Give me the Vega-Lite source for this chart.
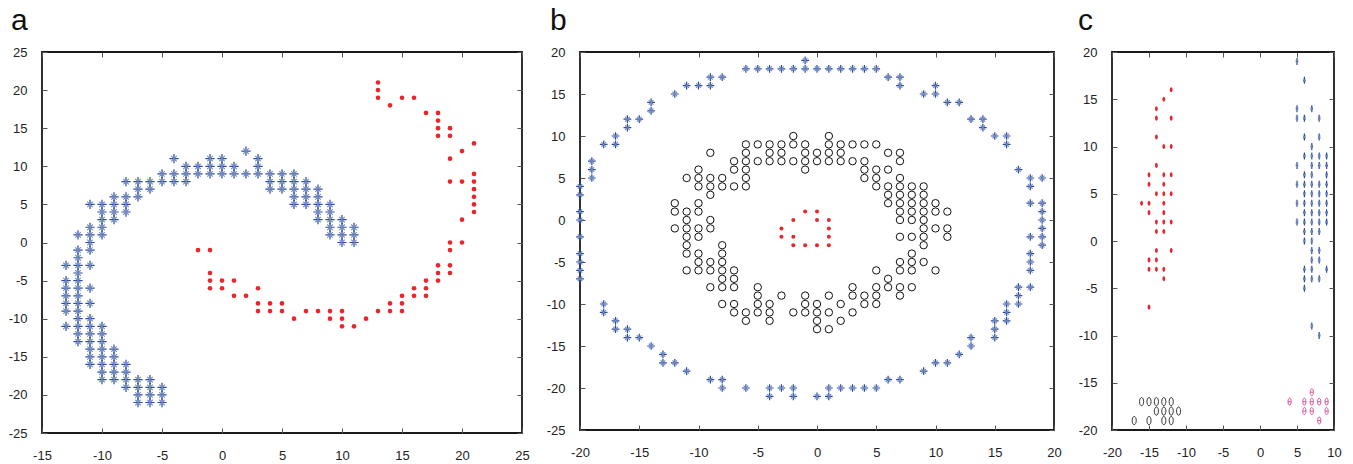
{
"$schema": "https://vega.github.io/schema/vega-lite/v6.json",
"background": "white",
"padding": {"left": 7, "top": 4, "right": 5, "bottom": 5},
"bounds": "flush",
"spacing": 58,
"datasets": {
"a": [
{"x":-13,"y":-3,"g":"s"},{"x":-13,"y":-5,"g":"s"},{"x":-13,"y":-6,"g":"s"},{"x":-13,"y":-7,"g":"s"},{"x":-13,"y":-8,"g":"s"},{"x":-13,"y":-9,"g":"s"},{"x":-13,"y":-11,"g":"s"},
{"x":-12,"y":1,"g":"s"},{"x":-12,"y":-1,"g":"s"},{"x":-12,"y":-2,"g":"s"},{"x":-12,"y":-3,"g":"s"},{"x":-12,"y":-4,"g":"s"},{"x":-12,"y":-5,"g":"s"},{"x":-12,"y":-6,"g":"s"},{"x":-12,"y":-7,"g":"s"},{"x":-12,"y":-8,"g":"s"},{"x":-12,"y":-9,"g":"s"},{"x":-12,"y":-10,"g":"s"},{"x":-12,"y":-11,"g":"s"},{"x":-12,"y":-12,"g":"s"},{"x":-12,"y":-13,"g":"s"},
{"x":-11,"y":5,"g":"s"},{"x":-11,"y":2,"g":"s"},{"x":-11,"y":1,"g":"s"},{"x":-11,"y":0,"g":"s"},{"x":-11,"y":-1,"g":"s"},{"x":-11,"y":-3,"g":"s"},{"x":-11,"y":-6,"g":"s"},{"x":-11,"y":-8,"g":"s"},{"x":-11,"y":-10,"g":"s"},{"x":-11,"y":-11,"g":"s"},{"x":-11,"y":-12,"g":"s"},{"x":-11,"y":-13,"g":"s"},{"x":-11,"y":-14,"g":"s"},{"x":-11,"y":-15,"g":"s"},{"x":-11,"y":-16,"g":"s"},
{"x":-10,"y":5,"g":"s"},{"x":-10,"y":4,"g":"s"},{"x":-10,"y":3,"g":"s"},{"x":-10,"y":2,"g":"s"},{"x":-10,"y":1,"g":"s"},{"x":-10,"y":-11,"g":"s"},{"x":-10,"y":-12,"g":"s"},{"x":-10,"y":-13,"g":"s"},{"x":-10,"y":-14,"g":"s"},{"x":-10,"y":-15,"g":"s"},{"x":-10,"y":-16,"g":"s"},{"x":-10,"y":-17,"g":"s"},{"x":-10,"y":-18,"g":"s"},
{"x":-9,"y":6,"g":"s"},{"x":-9,"y":5,"g":"s"},{"x":-9,"y":4,"g":"s"},{"x":-9,"y":3,"g":"s"},{"x":-9,"y":-14,"g":"s"},{"x":-9,"y":-15,"g":"s"},{"x":-9,"y":-16,"g":"s"},{"x":-9,"y":-17,"g":"s"},{"x":-9,"y":-18,"g":"s"},
{"x":-8,"y":8,"g":"s"},{"x":-8,"y":6,"g":"s"},{"x":-8,"y":5,"g":"s"},{"x":-8,"y":4,"g":"s"},{"x":-8,"y":-16,"g":"s"},{"x":-8,"y":-17,"g":"s"},{"x":-8,"y":-18,"g":"s"},{"x":-8,"y":-19,"g":"s"},
{"x":-7,"y":8,"g":"s"},{"x":-7,"y":7,"g":"s"},{"x":-7,"y":6,"g":"s"},{"x":-7,"y":-18,"g":"s"},{"x":-7,"y":-19,"g":"s"},{"x":-7,"y":-20,"g":"s"},{"x":-7,"y":-21,"g":"s"},
{"x":-6,"y":8,"g":"s"},{"x":-6,"y":7,"g":"s"},{"x":-6,"y":-18,"g":"s"},{"x":-6,"y":-19,"g":"s"},{"x":-6,"y":-20,"g":"s"},{"x":-6,"y":-21,"g":"s"},
{"x":-5,"y":9,"g":"s"},{"x":-5,"y":8,"g":"s"},{"x":-5,"y":-19,"g":"s"},{"x":-5,"y":-20,"g":"s"},{"x":-5,"y":-21,"g":"s"},
{"x":-4,"y":11,"g":"s"},{"x":-4,"y":9,"g":"s"},{"x":-4,"y":8,"g":"s"},
{"x":-3,"y":10,"g":"s"},{"x":-3,"y":9,"g":"s"},{"x":-3,"y":8,"g":"s"},
{"x":-2,"y":10,"g":"s"},{"x":-2,"y":9,"g":"s"},
{"x":-1,"y":11,"g":"s"},{"x":-1,"y":10,"g":"s"},{"x":-1,"y":9,"g":"s"},
{"x":0,"y":11,"g":"s"},{"x":0,"y":10,"g":"s"},{"x":0,"y":9,"g":"s"},
{"x":1,"y":10,"g":"s"},{"x":1,"y":9,"g":"s"},
{"x":2,"y":12,"g":"s"},{"x":2,"y":9,"g":"s"},
{"x":3,"y":11,"g":"s"},{"x":3,"y":10,"g":"s"},{"x":3,"y":9,"g":"s"},
{"x":4,"y":9,"g":"s"},{"x":4,"y":8,"g":"s"},{"x":4,"y":7,"g":"s"},
{"x":5,"y":9,"g":"s"},{"x":5,"y":8,"g":"s"},{"x":5,"y":7,"g":"s"},
{"x":6,"y":9,"g":"s"},{"x":6,"y":8,"g":"s"},{"x":6,"y":7,"g":"s"},{"x":6,"y":6,"g":"s"},{"x":6,"y":5,"g":"s"},
{"x":7,"y":8,"g":"s"},{"x":7,"y":7,"g":"s"},{"x":7,"y":6,"g":"s"},{"x":7,"y":5,"g":"s"},
{"x":8,"y":7,"g":"s"},{"x":8,"y":6,"g":"s"},{"x":8,"y":5,"g":"s"},{"x":8,"y":4,"g":"s"},{"x":8,"y":3,"g":"s"},
{"x":9,"y":5,"g":"s"},{"x":9,"y":4,"g":"s"},{"x":9,"y":3,"g":"s"},{"x":9,"y":2,"g":"s"},{"x":9,"y":1,"g":"s"},
{"x":10,"y":3,"g":"s"},{"x":10,"y":2,"g":"s"},{"x":10,"y":1,"g":"s"},{"x":10,"y":0,"g":"s"},
{"x":11,"y":2,"g":"s"},{"x":11,"y":1,"g":"s"},{"x":11,"y":0,"g":"s"},
{"x":-2,"y":-1,"g":"r"},{"x":-1,"y":-1,"g":"r"},{"x":-1,"y":-4,"g":"r"},{"x":-1,"y":-5,"g":"r"},{"x":-1,"y":-6,"g":"r"},{"x":0,"y":-5,"g":"r"},{"x":0,"y":-6,"g":"r"},{"x":1,"y":-5,"g":"r"},{"x":1,"y":-7,"g":"r"},{"x":2,"y":-7,"g":"r"},
{"x":3,"y":-6,"g":"r"},{"x":3,"y":-8,"g":"r"},{"x":3,"y":-9,"g":"r"},{"x":4,"y":-8,"g":"r"},{"x":4,"y":-9,"g":"r"},{"x":5,"y":-8,"g":"r"},{"x":5,"y":-9,"g":"r"},{"x":6,"y":-10,"g":"r"},{"x":7,"y":-9,"g":"r"},{"x":8,"y":-9,"g":"r"},
{"x":9,"y":-9,"g":"r"},{"x":9,"y":-10,"g":"r"},{"x":10,"y":-9,"g":"r"},{"x":10,"y":-10,"g":"r"},{"x":10,"y":-11,"g":"r"},{"x":11,"y":-11,"g":"r"},{"x":12,"y":-10,"g":"r"},{"x":13,"y":-9,"g":"r"},{"x":14,"y":-8,"g":"r"},{"x":14,"y":-9,"g":"r"},
{"x":15,"y":-7,"g":"r"},{"x":15,"y":-8,"g":"r"},{"x":15,"y":-9,"g":"r"},{"x":16,"y":-6,"g":"r"},{"x":16,"y":-7,"g":"r"},{"x":17,"y":-5,"g":"r"},{"x":17,"y":-6,"g":"r"},{"x":17,"y":-7,"g":"r"},{"x":18,"y":-3,"g":"r"},{"x":18,"y":-4,"g":"r"},{"x":18,"y":-5,"g":"r"},
{"x":19,"y":0,"g":"r"},{"x":19,"y":-1,"g":"r"},{"x":19,"y":-3,"g":"r"},{"x":19,"y":-4,"g":"r"},{"x":20,"y":0,"g":"r"},{"x":20,"y":3,"g":"r"},{"x":20,"y":8,"g":"r"},{"x":20,"y":12,"g":"r"},{"x":19,"y":8,"g":"r"},{"x":19,"y":11,"g":"r"},{"x":19,"y":14,"g":"r"},{"x":19,"y":15,"g":"r"},
{"x":21,"y":13,"g":"r"},{"x":21,"y":9,"g":"r"},{"x":21,"y":8,"g":"r"},{"x":21,"y":7,"g":"r"},{"x":21,"y":6,"g":"r"},{"x":21,"y":5,"g":"r"},{"x":21,"y":4,"g":"r"},
{"x":18,"y":17,"g":"r"},{"x":18,"y":16,"g":"r"},{"x":18,"y":15,"g":"r"},{"x":18,"y":14,"g":"r"},{"x":17,"y":17,"g":"r"},{"x":16,"y":19,"g":"r"},{"x":15,"y":19,"g":"r"},{"x":14,"y":18,"g":"r"},{"x":13,"y":21,"g":"r"},{"x":13,"y":20,"g":"r"},{"x":13,"y":19,"g":"r"}
],
"b": [
{"x":-1,"y":19,"g":"s"},
{"x":-6,"y":18,"g":"s"},{"x":-5,"y":18,"g":"s"},{"x":-4,"y":18,"g":"s"},{"x":-3,"y":18,"g":"s"},{"x":-2,"y":18,"g":"s"},{"x":-1,"y":18,"g":"s"},{"x":0,"y":18,"g":"s"},{"x":1,"y":18,"g":"s"},{"x":2,"y":18,"g":"s"},{"x":3,"y":18,"g":"s"},{"x":4,"y":18,"g":"s"},{"x":5,"y":18,"g":"s"},
{"x":-9,"y":17,"g":"s"},{"x":-8,"y":17,"g":"s"},{"x":6,"y":17,"g":"s"},{"x":7,"y":17,"g":"s"},
{"x":-11,"y":16,"g":"s"},{"x":-10,"y":16,"g":"s"},{"x":-9,"y":16,"g":"s"},{"x":7,"y":16,"g":"s"},{"x":10,"y":16,"g":"s"},
{"x":-12,"y":15,"g":"s"},{"x":9,"y":15,"g":"s"},{"x":10,"y":15,"g":"s"},
{"x":-14,"y":14,"g":"s"},{"x":11,"y":14,"g":"s"},{"x":12,"y":14,"g":"s"},
{"x":-14,"y":13,"g":"s"},
{"x":-16,"y":12,"g":"s"},{"x":-15,"y":12,"g":"s"},{"x":13,"y":12,"g":"s"},{"x":14,"y":12,"g":"s"},
{"x":-16,"y":11,"g":"s"},{"x":14,"y":11,"g":"s"},
{"x":-17,"y":10,"g":"s"},{"x":15,"y":10,"g":"s"},{"x":16,"y":10,"g":"s"},
{"x":-18,"y":9,"g":"s"},{"x":-17,"y":9,"g":"s"},{"x":16,"y":9,"g":"s"},
{"x":-19,"y":7,"g":"s"},
{"x":-19,"y":6,"g":"s"},{"x":17,"y":6,"g":"s"},
{"x":-19,"y":5,"g":"s"},{"x":18,"y":5,"g":"s"},{"x":19,"y":5,"g":"s"},
{"x":-20,"y":4,"g":"s"},{"x":18,"y":4,"g":"s"},
{"x":-20,"y":3,"g":"s"},
{"x":18,"y":2,"g":"s"},{"x":19,"y":2,"g":"s"},
{"x":-20,"y":1,"g":"s"},{"x":19,"y":1,"g":"s"},
{"x":-20,"y":0,"g":"s"},{"x":19,"y":0,"g":"s"},
{"x":19,"y":-1,"g":"s"},
{"x":-20,"y":-2,"g":"s"},{"x":18,"y":-2,"g":"s"},{"x":19,"y":-2,"g":"s"},
{"x":19,"y":-3,"g":"s"},
{"x":-20,"y":-4,"g":"s"},{"x":18,"y":-4,"g":"s"},
{"x":-20,"y":-5,"g":"s"},{"x":18,"y":-5,"g":"s"},
{"x":-20,"y":-6,"g":"s"},{"x":18,"y":-6,"g":"s"},
{"x":-20,"y":-7,"g":"s"},
{"x":17,"y":-8,"g":"s"},{"x":18,"y":-8,"g":"s"},
{"x":17,"y":-9,"g":"s"},
{"x":-18,"y":-10,"g":"s"},{"x":16,"y":-10,"g":"s"},{"x":17,"y":-10,"g":"s"},
{"x":-18,"y":-11,"g":"s"},{"x":16,"y":-11,"g":"s"},
{"x":-17,"y":-12,"g":"s"},{"x":15,"y":-12,"g":"s"},{"x":16,"y":-12,"g":"s"},
{"x":-17,"y":-13,"g":"s"},{"x":-16,"y":-13,"g":"s"},{"x":15,"y":-13,"g":"s"},
{"x":-16,"y":-14,"g":"s"},{"x":-15,"y":-14,"g":"s"},{"x":13,"y":-14,"g":"s"},{"x":15,"y":-14,"g":"s"},
{"x":-14,"y":-15,"g":"s"},{"x":13,"y":-15,"g":"s"},
{"x":-13,"y":-16,"g":"s"},{"x":12,"y":-16,"g":"s"},
{"x":-13,"y":-17,"g":"s"},{"x":-12,"y":-17,"g":"s"},{"x":10,"y":-17,"g":"s"},{"x":11,"y":-17,"g":"s"},
{"x":-11,"y":-18,"g":"s"},{"x":9,"y":-18,"g":"s"},
{"x":-9,"y":-19,"g":"s"},{"x":-8,"y":-19,"g":"s"},{"x":6,"y":-19,"g":"s"},{"x":7,"y":-19,"g":"s"},
{"x":-8,"y":-20,"g":"s"},{"x":-6,"y":-20,"g":"s"},{"x":-4,"y":-20,"g":"s"},{"x":-3,"y":-20,"g":"s"},{"x":-2,"y":-20,"g":"s"},{"x":1,"y":-20,"g":"s"},{"x":2,"y":-20,"g":"s"},{"x":3,"y":-20,"g":"s"},{"x":4,"y":-20,"g":"s"},{"x":5,"y":-20,"g":"s"},
{"x":-4,"y":-21,"g":"s"},{"x":-2,"y":-21,"g":"s"},{"x":0,"y":-21,"g":"s"},{"x":1,"y":-21,"g":"s"},
{"x":-2,"y":10,"g":"o"},{"x":1,"y":10,"g":"o"},
{"x":-6,"y":9,"g":"o"},{"x":-5,"y":9,"g":"o"},{"x":-4,"y":9,"g":"o"},{"x":-3,"y":9,"g":"o"},{"x":-2,"y":9,"g":"o"},{"x":-1,"y":9,"g":"o"},{"x":1,"y":9,"g":"o"},{"x":2,"y":9,"g":"o"},{"x":3,"y":9,"g":"o"},{"x":4,"y":9,"g":"o"},{"x":5,"y":9,"g":"o"},
{"x":-9,"y":8,"g":"o"},{"x":-6,"y":8,"g":"o"},{"x":-4,"y":8,"g":"o"},{"x":-3,"y":8,"g":"o"},{"x":-1,"y":8,"g":"o"},{"x":0,"y":8,"g":"o"},{"x":1,"y":8,"g":"o"},{"x":2,"y":8,"g":"o"},{"x":6,"y":8,"g":"o"},{"x":7,"y":8,"g":"o"},
{"x":-7,"y":7,"g":"o"},{"x":-6,"y":7,"g":"o"},{"x":-5,"y":7,"g":"o"},{"x":-4,"y":7,"g":"o"},{"x":-3,"y":7,"g":"o"},{"x":-2,"y":7,"g":"o"},{"x":-1,"y":7,"g":"o"},{"x":0,"y":7,"g":"o"},{"x":1,"y":7,"g":"o"},{"x":2,"y":7,"g":"o"},{"x":3,"y":7,"g":"o"},{"x":4,"y":7,"g":"o"},{"x":7,"y":7,"g":"o"},
{"x":-10,"y":6,"g":"o"},{"x":-7,"y":6,"g":"o"},{"x":-6,"y":6,"g":"o"},{"x":-1,"y":6,"g":"o"},{"x":4,"y":6,"g":"o"},{"x":5,"y":6,"g":"o"},{"x":6,"y":6,"g":"o"},
{"x":-11,"y":5,"g":"o"},{"x":-10,"y":5,"g":"o"},{"x":-9,"y":5,"g":"o"},{"x":-8,"y":5,"g":"o"},{"x":-6,"y":5,"g":"o"},{"x":4,"y":5,"g":"o"},{"x":5,"y":5,"g":"o"},{"x":7,"y":5,"g":"o"},
{"x":-10,"y":4,"g":"o"},{"x":-9,"y":4,"g":"o"},{"x":-8,"y":4,"g":"o"},{"x":-7,"y":4,"g":"o"},{"x":-6,"y":4,"g":"o"},{"x":5,"y":4,"g":"o"},{"x":6,"y":4,"g":"o"},{"x":7,"y":4,"g":"o"},{"x":8,"y":4,"g":"o"},{"x":9,"y":4,"g":"o"},
{"x":-9,"y":3,"g":"o"},{"x":6,"y":3,"g":"o"},{"x":7,"y":3,"g":"o"},{"x":8,"y":3,"g":"o"},{"x":9,"y":3,"g":"o"},
{"x":-12,"y":2,"g":"o"},{"x":-10,"y":2,"g":"o"},{"x":6,"y":2,"g":"o"},{"x":7,"y":2,"g":"o"},{"x":8,"y":2,"g":"o"},{"x":9,"y":2,"g":"o"},{"x":10,"y":2,"g":"o"},
{"x":-12,"y":1,"g":"o"},{"x":-11,"y":1,"g":"o"},{"x":-10,"y":1,"g":"o"},{"x":7,"y":1,"g":"o"},{"x":8,"y":1,"g":"o"},{"x":9,"y":1,"g":"o"},{"x":10,"y":1,"g":"o"},{"x":11,"y":1,"g":"o"},
{"x":-11,"y":0,"g":"o"},{"x":-9,"y":0,"g":"o"},{"x":7,"y":0,"g":"o"},{"x":8,"y":0,"g":"o"},{"x":9,"y":0,"g":"o"},
{"x":-12,"y":-1,"g":"o"},{"x":-11,"y":-1,"g":"o"},{"x":-10,"y":-1,"g":"o"},{"x":-9,"y":-1,"g":"o"},{"x":9,"y":-1,"g":"o"},{"x":10,"y":-1,"g":"o"},{"x":11,"y":-1,"g":"o"},
{"x":-11,"y":-2,"g":"o"},{"x":-10,"y":-2,"g":"o"},{"x":7,"y":-2,"g":"o"},{"x":8,"y":-2,"g":"o"},{"x":9,"y":-2,"g":"o"},{"x":11,"y":-2,"g":"o"},
{"x":-11,"y":-3,"g":"o"},{"x":-8,"y":-3,"g":"o"},{"x":9,"y":-3,"g":"o"},
{"x":-11,"y":-4,"g":"o"},{"x":-10,"y":-4,"g":"o"},{"x":-8,"y":-4,"g":"o"},{"x":8,"y":-4,"g":"o"},
{"x":-10,"y":-5,"g":"o"},{"x":-9,"y":-5,"g":"o"},{"x":-8,"y":-5,"g":"o"},{"x":7,"y":-5,"g":"o"},{"x":8,"y":-5,"g":"o"},{"x":9,"y":-5,"g":"o"},
{"x":-11,"y":-6,"g":"o"},{"x":-10,"y":-6,"g":"o"},{"x":-9,"y":-6,"g":"o"},{"x":-8,"y":-6,"g":"o"},{"x":-7,"y":-6,"g":"o"},{"x":5,"y":-6,"g":"o"},{"x":7,"y":-6,"g":"o"},{"x":8,"y":-6,"g":"o"},{"x":10,"y":-6,"g":"o"},
{"x":-8,"y":-7,"g":"o"},{"x":-7,"y":-7,"g":"o"},{"x":6,"y":-7,"g":"o"},
{"x":-9,"y":-8,"g":"o"},{"x":-8,"y":-8,"g":"o"},{"x":-7,"y":-8,"g":"o"},{"x":-5,"y":-8,"g":"o"},{"x":3,"y":-8,"g":"o"},{"x":5,"y":-8,"g":"o"},{"x":6,"y":-8,"g":"o"},{"x":7,"y":-8,"g":"o"},{"x":8,"y":-8,"g":"o"},
{"x":-5,"y":-9,"g":"o"},{"x":-3,"y":-9,"g":"o"},{"x":-1,"y":-9,"g":"o"},{"x":1,"y":-9,"g":"o"},{"x":3,"y":-9,"g":"o"},{"x":4,"y":-9,"g":"o"},{"x":5,"y":-9,"g":"o"},{"x":7,"y":-9,"g":"o"},
{"x":-8,"y":-10,"g":"o"},{"x":-7,"y":-10,"g":"o"},{"x":-5,"y":-10,"g":"o"},{"x":-4,"y":-10,"g":"o"},{"x":-1,"y":-10,"g":"o"},{"x":0,"y":-10,"g":"o"},{"x":2,"y":-10,"g":"o"},{"x":4,"y":-10,"g":"o"},{"x":5,"y":-10,"g":"o"},
{"x":-7,"y":-11,"g":"o"},{"x":-6,"y":-11,"g":"o"},{"x":-5,"y":-11,"g":"o"},{"x":-4,"y":-11,"g":"o"},{"x":-2,"y":-11,"g":"o"},{"x":-1,"y":-11,"g":"o"},{"x":0,"y":-11,"g":"o"},{"x":1,"y":-11,"g":"o"},{"x":3,"y":-11,"g":"o"},
{"x":-6,"y":-12,"g":"o"},{"x":-4,"y":-12,"g":"o"},{"x":0,"y":-12,"g":"o"},{"x":2,"y":-12,"g":"o"},
{"x":0,"y":-13,"g":"o"},{"x":1,"y":-13,"g":"o"},
{"x":-1,"y":1,"g":"r"},{"x":0,"y":1,"g":"r"},{"x":-2,"y":0,"g":"r"},{"x":0,"y":0,"g":"r"},{"x":1,"y":0,"g":"r"},{"x":-3,"y":-1,"g":"r"},{"x":1,"y":-1,"g":"r"},{"x":-3,"y":-2,"g":"r"},{"x":-2,"y":-2,"g":"r"},{"x":1,"y":-2,"g":"r"},{"x":-2,"y":-3,"g":"r"},{"x":-1,"y":-3,"g":"r"},{"x":0,"y":-3,"g":"r"},{"x":1,"y":-3,"g":"r"}
],
"c": [
{"x":-12,"y":16,"g":"r"},{"x":-13,"y":15,"g":"r"},{"x":-14,"y":14,"g":"r"},{"x":-14,"y":13,"g":"r"},{"x":-12,"y":13,"g":"r"},{"x":-14,"y":11,"g":"r"},{"x":-13,"y":10,"g":"r"},{"x":-12,"y":10,"g":"r"},{"x":-14,"y":8,"g":"r"},{"x":-15,"y":7,"g":"r"},{"x":-13,"y":7,"g":"r"},{"x":-12,"y":7,"g":"r"},
{"x":-15,"y":6,"g":"r"},{"x":-13,"y":6,"g":"r"},{"x":-14,"y":5,"g":"r"},{"x":-13,"y":5,"g":"r"},{"x":-12,"y":5,"g":"r"},{"x":-16,"y":4,"g":"r"},{"x":-15,"y":4,"g":"r"},{"x":-13,"y":4,"g":"r"},{"x":-15,"y":3,"g":"r"},{"x":-13,"y":3,"g":"r"},
{"x":-14,"y":2,"g":"r"},{"x":-13,"y":2,"g":"r"},{"x":-12,"y":2,"g":"r"},{"x":-14,"y":1,"g":"r"},{"x":-13,"y":1,"g":"r"},{"x":-14,"y":-1,"g":"r"},{"x":-12,"y":-1,"g":"r"},{"x":-15,"y":-2,"g":"r"},{"x":-14,"y":-2,"g":"r"},{"x":-15,"y":-3,"g":"r"},{"x":-14,"y":-3,"g":"r"},{"x":-13,"y":-3,"g":"r"},{"x":-13,"y":-4,"g":"r"},{"x":-15,"y":-7,"g":"r"},
{"x":5,"y":19,"g":"s"},{"x":6,"y":17,"g":"s"},{"x":5,"y":14,"g":"s"},{"x":7,"y":14,"g":"s"},{"x":5,"y":13,"g":"s"},{"x":6,"y":13,"g":"s"},{"x":8,"y":13,"g":"s"},{"x":6,"y":11,"g":"s"},{"x":8,"y":11,"g":"s"},{"x":7,"y":10,"g":"s"},
{"x":6,"y":9,"g":"s"},{"x":7,"y":9,"g":"s"},{"x":8,"y":9,"g":"s"},{"x":9,"y":9,"g":"s"},{"x":5,"y":8,"g":"s"},{"x":7,"y":8,"g":"s"},{"x":8,"y":8,"g":"s"},{"x":9,"y":8,"g":"s"},{"x":6,"y":7,"g":"s"},{"x":7,"y":7,"g":"s"},{"x":9,"y":7,"g":"s"},
{"x":5,"y":6,"g":"s"},{"x":6,"y":6,"g":"s"},{"x":7,"y":6,"g":"s"},{"x":8,"y":6,"g":"s"},{"x":9,"y":6,"g":"s"},{"x":6,"y":5,"g":"s"},{"x":7,"y":5,"g":"s"},{"x":8,"y":5,"g":"s"},{"x":9,"y":5,"g":"s"},
{"x":5,"y":4,"g":"s"},{"x":6,"y":4,"g":"s"},{"x":7,"y":4,"g":"s"},{"x":8,"y":4,"g":"s"},{"x":9,"y":4,"g":"s"},{"x":6,"y":3,"g":"s"},{"x":7,"y":3,"g":"s"},{"x":8,"y":3,"g":"s"},{"x":9,"y":3,"g":"s"},
{"x":5,"y":2,"g":"s"},{"x":6,"y":2,"g":"s"},{"x":7,"y":2,"g":"s"},{"x":8,"y":2,"g":"s"},{"x":9,"y":2,"g":"s"},{"x":6,"y":1,"g":"s"},{"x":7,"y":1,"g":"s"},{"x":8,"y":1,"g":"s"},{"x":6,"y":0,"g":"s"},{"x":7,"y":0,"g":"s"},
{"x":7,"y":-1,"g":"s"},{"x":8,"y":-1,"g":"s"},{"x":7,"y":-2,"g":"s"},{"x":8,"y":-2,"g":"s"},{"x":6,"y":-3,"g":"s"},{"x":7,"y":-3,"g":"s"},{"x":9,"y":-3,"g":"s"},{"x":6,"y":-4,"g":"s"},{"x":7,"y":-4,"g":"s"},{"x":8,"y":-4,"g":"s"},{"x":6,"y":-5,"g":"s"},{"x":7,"y":-9,"g":"s"},{"x":8,"y":-10,"g":"s"},
{"x":-16,"y":-17,"g":"k"},{"x":-15,"y":-17,"g":"k"},{"x":-14,"y":-17,"g":"k"},{"x":-13,"y":-17,"g":"k"},{"x":-12,"y":-17,"g":"k"},{"x":-14,"y":-18,"g":"k"},{"x":-13,"y":-18,"g":"k"},{"x":-12,"y":-18,"g":"k"},{"x":-11,"y":-18,"g":"k"},{"x":-17,"y":-19,"g":"k"},{"x":-15,"y":-19,"g":"k"},{"x":-13,"y":-19,"g":"k"},{"x":-12,"y":-19,"g":"k"},
{"x":4,"y":-17,"g":"m"},{"x":6,"y":-17,"g":"m"},{"x":7,"y":-17,"g":"m"},{"x":8,"y":-17,"g":"m"},{"x":9,"y":-17,"g":"m"},{"x":7,"y":-16,"g":"m"},{"x":6,"y":-18,"g":"m"},{"x":7,"y":-18,"g":"m"},{"x":9,"y":-18,"g":"m"},{"x":8,"y":-19,"g":"m"}
]
},
"hconcat": [
{
"width": 480, "height": 381,
"title": {"text": "a", "dx": -31},
"data": {"name": "a"},
"resolve": {"axis": {"x": "independent", "y": "independent"}},
"layer": [
{"transform": [{"filter": "datum.g === 's'"}],
 "mark": {"type": "point", "shape": "M-1,0L1,0M0,-1L0,1", "filled": false, "color": "#2a4b9a", "size": 85, "strokeWidth": 1.2, "opacity": 1},
 "encoding": {
  "x": {"field": "x", "type": "quantitative", "scale": {"domain": [-15, 25], "nice": false, "zero": false}, "axis": {"orient": "bottom", "title": null, "values": [-15,-10,-5,0,5,10,15,20,25]}},
  "y": {"field": "y", "type": "quantitative", "scale": {"domain": [-25, 25], "nice": false, "zero": false}, "axis": {"orient": "left", "title": null, "values": [-25,-20,-15,-10,-5,0,5,10,15,20,25]}}}},
{"transform": [{"filter": "datum.g === 's'"}],
 "mark": {"type": "point", "shape": "M-0.6,-0.6L0.6,0.6M-0.6,0.6L0.6,-0.6", "filled": false, "color": "#6f88c2", "size": 85, "strokeWidth": 1.1, "opacity": 1},
 "encoding": {
  "x": {"field": "x", "type": "quantitative", "axis": {"orient": "top", "title": null, "labels": false, "values": [-15,-10,-5,0,5,10,15,20,25]}},
  "y": {"field": "y", "type": "quantitative", "axis": {"orient": "right", "title": null, "labels": false, "values": [-25,-20,-15,-10,-5,0,5,10,15,20,25]}}}},
{"transform": [{"filter": "datum.g === 'r'"}],
 "mark": {"type": "circle", "color": "#e8262c", "size": 22, "opacity": 1},
 "encoding": {
  "x": {"field": "x", "type": "quantitative", "axis": null},
  "y": {"field": "y", "type": "quantitative", "axis": null}}}
]
},
{
"width": 474, "height": 378,
"title": {"text": "b", "dx": -30},
"data": {"name": "b"},
"resolve": {"axis": {"x": "independent", "y": "independent"}},
"layer": [
{"transform": [{"filter": "datum.g === 's'"}],
 "mark": {"type": "point", "shape": "M-1,0L1,0M0,-1L0,1", "filled": false, "color": "#2a4b9a", "size": 60, "strokeWidth": 1.2, "opacity": 1},
 "encoding": {
  "x": {"field": "x", "type": "quantitative", "scale": {"domain": [-20, 20], "nice": false, "zero": false}, "axis": {"orient": "bottom", "title": null, "values": [-20,-15,-10,-5,0,5,10,15,20]}},
  "y": {"field": "y", "type": "quantitative", "scale": {"domain": [-25, 20], "nice": false, "zero": false}, "axis": {"orient": "left", "title": null, "values": [-25,-20,-15,-10,-5,0,5,10,15,20]}}}},
{"transform": [{"filter": "datum.g === 's'"}],
 "mark": {"type": "point", "shape": "M-0.6,-0.6L0.6,0.6M-0.6,0.6L0.6,-0.6", "filled": false, "color": "#6f88c2", "size": 60, "strokeWidth": 1.1, "opacity": 1},
 "encoding": {
  "x": {"field": "x", "type": "quantitative", "axis": {"orient": "top", "title": null, "labels": false, "values": [-20,-15,-10,-5,0,5,10,15,20]}},
  "y": {"field": "y", "type": "quantitative", "axis": {"orient": "right", "title": null, "labels": false, "values": [-25,-20,-15,-10,-5,0,5,10,15,20]}}}},
{"transform": [{"filter": "datum.g === 'o'"}],
 "mark": {"type": "point", "shape": "circle", "filled": false, "color": "#111111", "size": 55, "strokeWidth": 1, "opacity": 1},
 "encoding": {
  "x": {"field": "x", "type": "quantitative", "axis": null},
  "y": {"field": "y", "type": "quantitative", "axis": null}}},
{"transform": [{"filter": "datum.g === 'r'"}],
 "mark": {"type": "circle", "color": "#e8262c", "size": 16, "opacity": 1},
 "encoding": {
  "x": {"field": "x", "type": "quantitative", "axis": null},
  "y": {"field": "y", "type": "quantitative", "axis": null}}}
]
},
{
"width": 222, "height": 378,
"title": {"text": "c", "dx": -34},
"data": {"name": "c"},
"resolve": {"axis": {"x": "independent", "y": "independent"}},
"layer": [
{"transform": [{"filter": "datum.g === 's'"}],
 "mark": {"type": "point", "shape": "M-0.35,0L0.35,0M0,-1L0,1", "filled": false, "color": "#2a4b9a", "size": 49, "strokeWidth": 1.2, "opacity": 1},
 "encoding": {
  "x": {"field": "x", "type": "quantitative", "scale": {"domain": [-20, 10], "nice": false, "zero": false}, "axis": {"orient": "bottom", "title": null, "values": [-20,-15,-10,-5,0,5,10]}},
  "y": {"field": "y", "type": "quantitative", "scale": {"domain": [-20, 20], "nice": false, "zero": false}, "axis": {"orient": "left", "title": null, "values": [-20,-15,-10,-5,0,5,10,15,20]}}}},
{"transform": [{"filter": "datum.g === 's'"}],
 "mark": {"type": "point", "shape": "M-0.3,-0.45L0.3,0.45M-0.3,0.45L0.3,-0.45", "filled": false, "color": "#6f88c2", "size": 49, "strokeWidth": 1, "opacity": 1},
 "encoding": {
  "x": {"field": "x", "type": "quantitative", "axis": {"orient": "top", "title": null, "labels": false, "values": [-20,-15,-10,-5,0,5,10]}},
  "y": {"field": "y", "type": "quantitative", "axis": {"orient": "right", "title": null, "labels": false, "values": [-20,-15,-10,-5,0,5,10,15,20]}}}},
{"transform": [{"filter": "datum.g === 'r'"}],
 "mark": {"type": "point", "shape": "M0,-1A0.55,1,0,1,1,0,1A0.55,1,0,1,1,0,-1Z", "filled": true, "color": "#e8262c", "size": 26, "opacity": 1},
 "encoding": {
  "x": {"field": "x", "type": "quantitative", "axis": null},
  "y": {"field": "y", "type": "quantitative", "axis": null}}},
{"transform": [{"filter": "datum.g === 'k'"}],
 "mark": {"type": "point", "shape": "M0,-1A0.5,1,0,1,1,0,1A0.5,1,0,1,1,0,-1Z", "filled": false, "color": "#222222", "size": 68, "strokeWidth": 0.9, "opacity": 1},
 "encoding": {
  "x": {"field": "x", "type": "quantitative", "axis": null},
  "y": {"field": "y", "type": "quantitative", "axis": null}}},
{"transform": [{"filter": "datum.g === 'm'"}],
 "mark": {"type": "point", "shape": "M0,-1A0.45,1,0,1,1,0,1A0.45,1,0,1,1,0,-1ZM-0.45,0L0.45,0", "filled": false, "color": "#d6449a", "size": 50, "strokeWidth": 0.9, "opacity": 1},
 "encoding": {
  "x": {"field": "x", "type": "quantitative", "axis": null},
  "y": {"field": "y", "type": "quantitative", "axis": null}}}
]
}
],
"config": {
"view": {"stroke": "#1a1a1a", "strokeWidth": 1.8},
"axis": {"domain": false, "grid": false, "tickSize": -5, "tickColor": "#555555", "tickWidth": 1, "labelFont": "Liberation Sans", "labelFontSize": 13, "labelColor": "#222222", "labelFlush": false, "labelOverlap": false, "labelBound": false, "labelExpr": "replace(datum.label, '\u2212', '-')"},
"axisX": {"labelPadding": 21},
"axisY": {"labelPadding": 20},
"title": {"font": "Liberation Sans", "fontSize": 30, "fontWeight": "normal", "anchor": "start", "frame": "group", "baseline": "alphabetic", "offset": 10.5, "color": "#111111"}
}
}
